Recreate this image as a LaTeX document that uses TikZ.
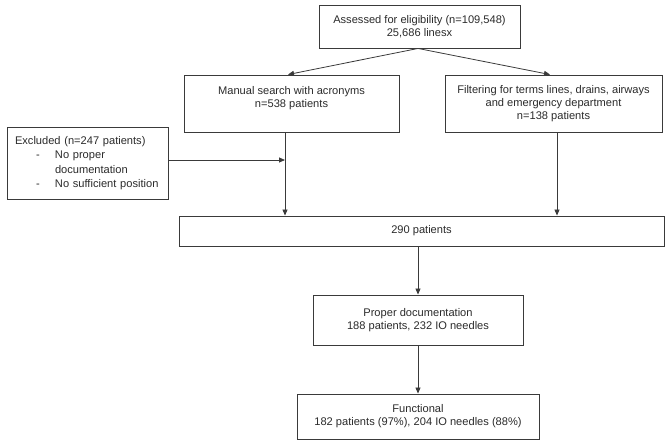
\documentclass[tikz,border=0pt]{standalone}
\usepackage{fontspec}
\setmainfont{Liberation Sans}
\usetikzlibrary{arrows.meta,positioning,calc}
\definecolor{linec}{HTML}{3A3A3A}
\definecolor{textc}{HTML}{2A2A2A}
\begin{document}
\begin{tikzpicture}[x=1pt,y=-1pt,
  box/.style={draw=linec,line width=0.9pt,align=center,inner sep=0pt,text=textc,
    font=\fontsize{11.1}{13}\selectfont},
  conn/.style={draw=linec,line width=0.8pt},
  arr/.style={conn,-{Triangle[length=6pt,width=5pt]}}]
\useasboundingbox (0,0) rectangle (669,447);
\node[box,minimum width=201pt,minimum height=43pt] (top) at (419.5,26.5) {Assessed for eligibility (n=109,548)\\25,686 linesx};
\node[box,minimum width=215pt,minimum height=57pt] (manual) at (291.5,103.5) {Manual search with acronyms\\n=538 patients\\\mbox{}};
\node[box,minimum width=217pt,minimum height=57pt] (filter) at (553.5,103.5) {Filtering for terms lines, drains, airways\\and emergency department\\n=138 patients};
\node[box,align=left,text width=145pt,minimum height=72pt,inner xsep=8pt,font=\fontsize{11.1}{14.5}\selectfont] (excl) at (87.5,163) {Excluded (n=247 patients)\\
\hspace*{21pt}\makebox[19pt][l]{-}No proper\\
\hspace*{40pt}documentation\\
\hspace*{21pt}\makebox[19pt][l]{-}No sufficient position};
\node[box,minimum width=485pt,minimum height=30pt] (p290) at (421.5,231) {290 patients};
\node[box,minimum width=210pt,minimum height=50pt] (proper) at (418,320) {Proper documentation\\188 patients, 232 IO needles};
\node[box,minimum width=242pt,minimum height=45pt] (func) at (418,416.5) {Functional\\182 patients (97\%), 204 IO needles (88\%)};
\coordinate (apex) at ([xshift=-1.5pt]top.south);
\draw[arr] (apex) -- ([xshift=-3.5pt]manual.north);
\draw[arr] (apex) -- ([xshift=-3.5pt]filter.north);
\coordinate (mline) at ([xshift=-6.5pt]manual.south);
\draw[arr] (mline) -- (mline |- p290.north);
\coordinate (fline) at ([xshift=3.5pt]filter.south);
\draw[arr] (fline) -- (fline |- p290.north);
\coordinate (exclstart) at ([yshift=3pt]excl.east);
\draw[arr] (exclstart) -- (exclstart -| mline);
\draw[arr] (p290.south -| proper.north) -- (proper.north);
\draw[arr] (proper.south) -- (func.north);
\end{tikzpicture}
\end{document}
